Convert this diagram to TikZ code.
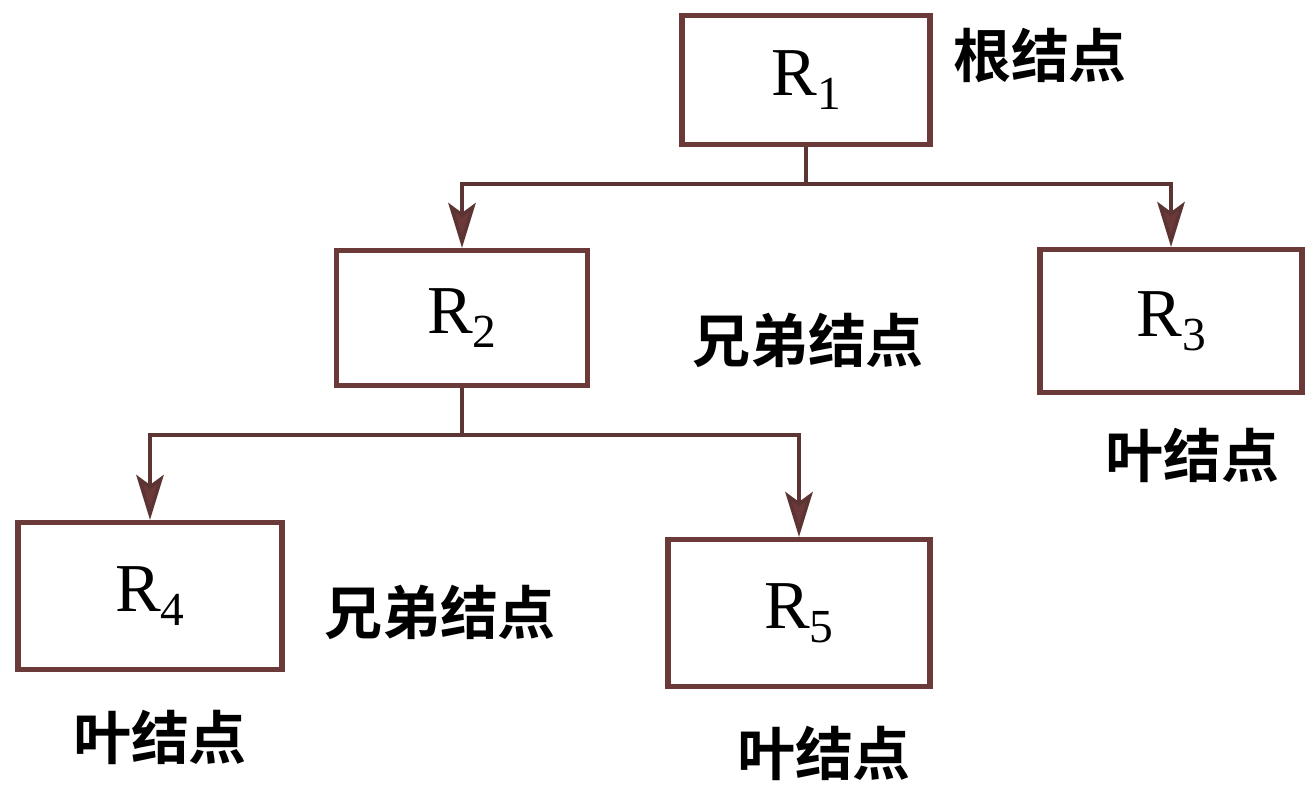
\documentclass[tikz,border=0pt]{standalone}
\usepackage{fontspec}
\setmainfont{Liberation Serif}
\newfontfamily\cjk{Noto Sans CJK SC Bold}
\usepackage{xcolor}
\usepackage{tikz}
\usetikzlibrary{arrows.meta}
\definecolor{boxred}{HTML}{6B3A38}
\definecolor{linered}{HTML}{5C3434}
\newcommand{\Rlab}[1]{R\raisebox{-0.45ex}{\fontsize{27}{27}\selectfont #1}}

\begin{document}
\begin{tikzpicture}[x=0.02cm, y=-0.02cm,
	box/.style={draw=boxred, line width=3pt, fill=white, inner sep=0pt, font=\fontsize{39}{42}\selectfont},
	cjklabel/.style={font=\cjk\fontsize{33}{36}\selectfont, inner sep=0pt},
	link/.style={draw=linered, line width=2pt},
	tip/.style={-{Stealth[length=9mm, width=5.5mm, inset=2mm, fill=boxred]}}]

	\fill[white] (0,0) rectangle (1309,785);
	\useasboundingbox (0,0) rectangle (1309,785);

	\node[box, minimum width=4.96cm, minimum height=2.58cm] (r1) at (806,80) {\Rlab{1}};
	\node[box, minimum width=5.02cm, minimum height=2.7cm] (r2) at (462,318) {\Rlab{2}};
	\node[box, minimum width=5.24cm, minimum height=2.86cm] (r3) at (1171,321) {\Rlab{3}};
	\node[box, minimum width=5.28cm, minimum height=2.94cm] (r4) at (150,596) {\Rlab{4}};
	\node[box, minimum width=5.24cm, minimum height=2.94cm] (r5) at (799,613) {\Rlab{5}};

	\draw[link] (r1.south) -- ++(0,37) coordinate (j1);
	\draw[link, tip] (j1) -| (r2.north);
	\draw[link, tip] (j1) -| (r3.north);

	\draw[link] (r2.south) -- ++(0,47) coordinate (j2);
	\draw[link, tip] (j2) -| (r4.north);
	\draw[link, tip] (j2) -| (r5.north);

	\node[cjklabel] (root) at (1040,55) {根结点};
	\node[cjklabel] (sib1) at (808,340) {兄弟结点};
	\node[cjklabel] (leaf3) at (1192,455) {叶结点};
	\node[cjklabel] (sib2) at (440,612) {兄弟结点};
	\node[cjklabel] (leaf4) at (160,737) {叶结点};
	\node[cjklabel] (leaf5) at (824,753) {叶结点};

\end{tikzpicture}
\end{document}
